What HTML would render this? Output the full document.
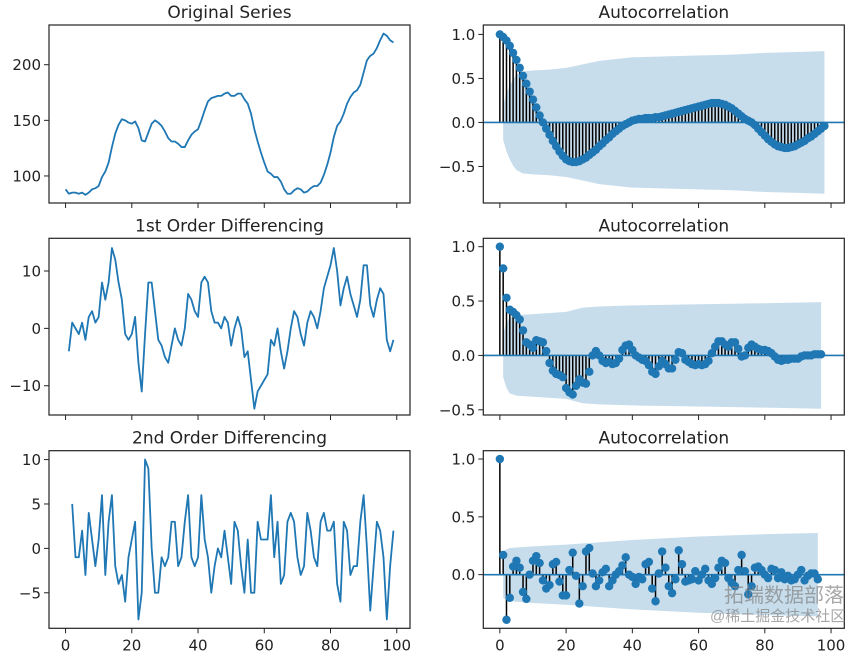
<!DOCTYPE html>
<html><head><meta charset="utf-8"><style>
html,body{margin:0;padding:0;background:#fff;}
svg{display:block;font-family:"DejaVu Sans","Liberation Sans","Noto Sans CJK SC",sans-serif;}
</style></head><body>
<svg id="fig" width="861" height="661" viewBox="0 0 861 661" xmlns="http://www.w3.org/2000/svg"></svg>
<script>
const origSeries=[88,84,85,85,84,85,83,85,88,89,91,99,104,112,126,138,146,151,150,148,147,149,143,132,131,139,147,150,148,145,140,134,131,131,129,126,126,132,137,140,142,150,159,167,170,171,172,172,174,175,172,172,174,174,169,165,156,142,131,121,112,104,102,99,99,95,88,84,84,87,89,88,85,86,89,91,91,94,101,110,121,135,145,149,156,165,171,175,177,182,193,204,208,210,215,222,228,226,222,220];
const diff1=[-4,1,0,-1,1,-2,2,3,1,2,8,5,8,14,12,8,5,-1,-2,-1,2,-6,-11,-1,8,8,3,-2,-3,-5,-6,-3,0,-2,-3,0,6,5,3,2,8,9,8,3,1,1,0,2,1,-3,0,2,0,-5,-4,-9,-14,-11,-10,-9,-8,-2,-3,0,-4,-7,-4,0,3,2,-1,-3,1,3,2,0,3,7,9,11,14,10,4,7,9,6,4,2,5,11,11,4,2,5,7,6,-2,-4,-2];
const diff2=[5,-1,-1,2,-3,4,1,-2,1,6,-3,3,6,-2,-4,-3,-6,-1,1,3,-8,-5,10,9,0,-5,-5,-1,-2,-1,3,3,-2,-1,3,6,-1,-2,-1,6,1,-1,-5,-2,0,-1,2,-1,-4,3,2,-2,-5,1,-5,-5,3,1,1,1,6,-1,3,-4,-3,3,4,3,-1,-3,-2,4,2,-1,-2,3,4,2,2,3,-4,-6,3,2,-3,-2,-2,3,6,0,-7,-2,3,2,-1,-8,-2,2];
const acf0=[1.00,0.97,0.93,0.87,0.79,0.71,0.62,0.53,0.44,0.35,0.26,0.17,0.08,0.00,-0.07,-0.14,-0.21,-0.27,-0.33,-0.38,-0.42,-0.44,-0.45,-0.45,-0.44,-0.42,-0.40,-0.37,-0.34,-0.31,-0.27,-0.24,-0.20,-0.17,-0.13,-0.10,-0.07,-0.04,-0.02,0.00,0.02,0.03,0.04,0.04,0.05,0.05,0.05,0.06,0.06,0.07,0.08,0.09,0.10,0.11,0.12,0.13,0.14,0.15,0.16,0.17,0.18,0.19,0.20,0.21,0.22,0.22,0.22,0.21,0.20,0.18,0.16,0.13,0.10,0.07,0.04,0.02,0.00,-0.03,-0.07,-0.11,-0.15,-0.19,-0.22,-0.25,-0.27,-0.28,-0.29,-0.29,-0.28,-0.27,-0.25,-0.23,-0.21,-0.18,-0.16,-0.13,-0.10,-0.07,-0.04];
const acf1=[1.0,0.8,0.53,0.42,0.40,0.37,0.33,0.23,0.12,0.10,0.07,0.14,0.13,0.12,0.04,-0.07,-0.14,-0.17,-0.18,-0.2,-0.3,-0.34,-0.36,-0.28,-0.22,-0.25,-0.26,-0.15,0.0,0.04,0.0,-0.05,-0.07,-0.06,-0.08,-0.07,-0.03,0.05,0.09,0.1,0.05,0.0,-0.02,-0.04,-0.05,-0.09,-0.15,-0.17,-0.1,-0.05,-0.08,-0.12,-0.12,-0.04,0.03,0.02,-0.04,-0.06,-0.08,-0.09,-0.08,-0.09,-0.08,-0.05,0.02,0.08,0.13,0.13,0.1,0.08,0.12,0.12,0.06,-0.01,0.0,0.07,0.1,0.08,0.06,0.05,0.05,0.04,0.02,-0.01,-0.04,-0.05,-0.04,-0.04,-0.03,-0.03,-0.03,-0.01,0.0,0.0,0.0,0.01,0.01,0.01];
const acf2=[1.0,0.17,-0.39,-0.2,0.07,0.12,0.06,-0.15,-0.21,0.0,0.12,0.16,0.1,-0.05,-0.12,-0.09,0.09,0.11,-0.06,-0.18,-0.18,0.04,0.19,-0.01,-0.25,-0.1,0.2,0.23,0.01,-0.1,-0.05,0.02,0.05,-0.1,-0.05,0.0,0.03,0.08,0.15,0.0,-0.02,-0.08,-0.02,-0.04,0.09,0.11,-0.12,-0.23,0.01,0.2,0.06,-0.1,-0.16,-0.04,0.21,0.09,-0.06,-0.05,-0.04,0.03,-0.05,0.0,0.05,-0.05,-0.08,-0.03,0.06,0.12,0.1,-0.03,-0.07,-0.1,0.04,0.17,0.03,-0.17,-0.1,0.06,0.07,0.04,0.0,-0.03,0.05,0.04,-0.03,0.02,-0.04,-0.01,-0.05,-0.04,0.0,0.04,-0.05,-0.01,0.01,0.01,-0.04];
const bandLags0=[1,2,3,4,5,7,10,15,20,25,30,40,50,60,70,80,90,98];
const bandVals0=[0.196,0.33,0.42,0.49,0.54,0.58,0.59,0.60,0.62,0.66,0.70,0.74,0.75,0.76,0.77,0.79,0.80,0.81];
const bandLags1=[1,2,3,5,10,20,25,30,40,60,80,97];
const bandVals1=[0.2,0.3,0.35,0.37,0.38,0.40,0.44,0.45,0.46,0.47,0.48,0.49];
const bandLags2=[1,2,3,10,20,40,60,80,96];
const bandVals2=[0.2,0.22,0.23,0.245,0.26,0.30,0.33,0.35,0.36];
const xTicks=[0,20,40,60,80,100];
const yTicksOrig=[100,150,200];
const yTicksD1=[-10,0,10];
const yTicksD2=[-5,0,5,10];
const yTicksAcf=[-0.5,0.0,0.5,1.0];
const titles=["Original Series","1st Order Differencing","2nd Order Differencing","Autocorrelation"];

const NS="http://www.w3.org/2000/svg";
const svg=document.getElementById('fig');
const BLUE="#1f77b4";
function el(tag,attrs,parent){const e=document.createElementNS(NS,tag);for(const k in attrs)e.setAttribute(k,attrs[k]);(parent||svg).appendChild(e);return e;}
const rows=[{t:25,b:203},{t:238.3,b:415},{t:450.7,b:628.3}];
const LX={l:49,r:410,xmin:-5,xmax:104};
const RX={l:483.3,r:844.3,xmin:-5,xmax:104};
function mk(ax){return v=>ax.l+(v-ax.xmin)/(ax.xmax-ax.xmin)*(ax.r-ax.l);}
function mky(row,ymin,ymax){return v=>row.b-(v-ymin)/(ymax-ymin)*(row.b-row.t);}
function frame(g,ax,row,sx,sy,yt,fmt,showX,title){
  el('rect',{x:ax.l,y:row.t,width:ax.r-ax.l,height:row.b-row.t,fill:'none',stroke:'#222','stroke-width':1.2},g);
  const tt=el('text',{x:(ax.l+ax.r)/2,y:row.t-7,'text-anchor':'middle','font-size':17,fill:'#222'},g);tt.textContent=title;
  
  xTicks.forEach(v=>{const x=sx(v);el('line',{x1:x,x2:x,y1:row.b,y2:row.b+5,stroke:'#222','stroke-width':1},g);
    if(showX){const t=el('text',{x:x,y:row.b+22,'text-anchor':'middle','font-size':15,fill:'#222'},g);t.textContent=v;
      }});
  yt.forEach(v=>{const y=sy(v);if(y>row.b+0.5||y<row.t-0.5)return;
    el('line',{x1:ax.l-5,x2:ax.l,y1:y,y2:y,stroke:'#222','stroke-width':1},g);
    const t=el('text',{x:ax.l-8,y:y+5.5,'text-anchor':'end','font-size':15,fill:'#222'},g);t.textContent=fmt(v).replace('-','\u2212');
    });
}
function linePanel(i,data,x0,ymin,ymax,yt){
  const g=el('g',{});
  const row=rows[i],sx=mk(LX),sy=mky(row,ymin,ymax);
  const d=data.map((v,k)=>(k?'L':'M')+sx(k+x0).toFixed(2)+','+sy(v).toFixed(2)).join('');
  const p=el('path',{d:d,fill:'none',stroke:BLUE,'stroke-width':1.8,'stroke-linejoin':'round'},g);
  
  frame(g,LX,row,sx,sy,yt,v=>String(v),i===2,titles[i]);
}
function acfPanel(i,acf,bl,bv,ymin,ymax){
  const g=el('g',{});
  const row=rows[i],sx=mk(RX),sy=mky(row,ymin,ymax);
  let up=bl.map((l,k)=>sx(l).toFixed(2)+','+sy(bv[k]).toFixed(2));
  let dn=bl.map((l,k)=>sx(l).toFixed(2)+','+sy(-bv[k]).toFixed(2)).reverse();
  const band=el('polygon',{points:up.concat(dn).join(' '),fill:BLUE,'fill-opacity':0.25,stroke:'none'},g);
  
  acf.forEach((v,k)=>{const s=el('line',{x1:sx(k),x2:sx(k),y1:sy(0),y2:sy(v),stroke:'#000','stroke-width':1.5},g);
    });
  const z=el('line',{x1:RX.l,x2:RX.r,y1:sy(0),y2:sy(0),stroke:BLUE,'stroke-width':1.6},g);
  
  acf.forEach((v,k)=>{const c=el('circle',{cx:sx(k),cy:sy(v),r:4.2,fill:BLUE},g);
    });
  frame(g,RX,row,sx,sy,yTicksAcf,v=>v.toFixed(1),i===2,titles[3]);
}
linePanel(0,origSeries,0,75.7,235.7,yTicksOrig);
linePanel(1,diff1,1,-15.1,15.7,yTicksD1);
linePanel(2,diff2,2,-9.0,11.0,yTicksD2);
acfPanel(0,acf0,bandLags0,bandVals0,-0.915,1.107);
acfPanel(1,acf1,bandLags1,bandVals1,-0.548,1.077);
acfPanel(2,acf2,bandLags2,bandVals2,-0.464,1.072);
</script>
<div style="position:absolute;left:710px;top:585px;white-space:nowrap;font-family:'Liberation Sans','Noto Sans CJK SC',sans-serif;color:rgba(130,130,130,0.7);">
<div style="font-size:20px;line-height:22px;padding-left:14px;">拓端数据部落</div>
<div style="font-size:15px;line-height:20px;">@稀土掘金技术社区</div>
</div>
</body></html>
